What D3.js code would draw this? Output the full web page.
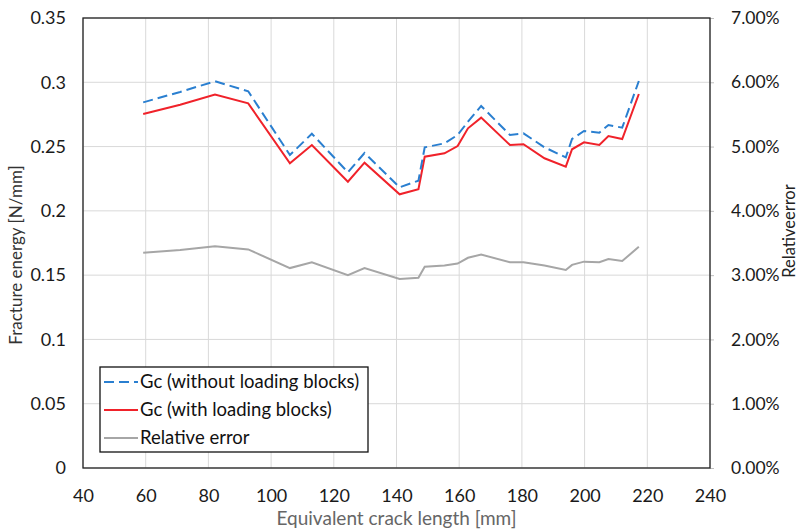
<!DOCTYPE html>
<html><head><meta charset="utf-8">
<script src="https://cdn.jsdelivr.net/npm/d3@7"></script>
<style>body{margin:0;background:#fff}svg{display:block}text{font-family:Lato,"Open Sans",sans-serif}</style>
</head><body><svg id="c" width="802" height="532"></svg>
<script>
const crackLength = [59.2, 71, 82.1, 92.7, 106, 113, 124.5, 129.8, 141, 147, 149, 155.3, 159.5, 162.8, 167, 176.2, 180.5, 187.2, 194, 196, 199.8, 204.7, 207.6, 212, 217.3];
const gcWithout = [0.2844, 0.2925, 0.3008, 0.2930, 0.2434, 0.2600, 0.2300, 0.2450, 0.2183, 0.2235, 0.2494, 0.2525, 0.2590, 0.2694, 0.2816, 0.2590, 0.2603, 0.2494, 0.2416, 0.2559, 0.2621, 0.2608, 0.2668, 0.2647, 0.3010];
const gcWith = [0.2753, 0.2825, 0.2905, 0.2836, 0.2370, 0.2512, 0.2227, 0.2375, 0.2129, 0.2168, 0.2421, 0.2448, 0.2504, 0.2642, 0.2725, 0.2512, 0.2518, 0.2409, 0.2344, 0.2479, 0.2533, 0.2512, 0.2582, 0.2559, 0.2909];
const relError = [0.0335, 0.0339, 0.0345, 0.0340, 0.0311, 0.0320, 0.0300, 0.0311, 0.0294, 0.0296, 0.0313, 0.0315, 0.0318, 0.0327, 0.0332, 0.0320, 0.0320, 0.0315, 0.0308, 0.0316, 0.0321, 0.0320, 0.0325, 0.0322, 0.0344];
const xTicks = [40, 60, 80, 100, 120, 140, 160, 180, 200, 220, 240];
const yTicks = [0, 0.05, 0.1, 0.15, 0.2, 0.25, 0.3, 0.35];
const y2Ticks = [0, 0.01, 0.02, 0.03, 0.04, 0.05, 0.06, 0.07];
const seriesNames = ["Gc (without loading blocks)", "Gc (with loading blocks)", "Relative error"];
const xTitle = "Equivalent crack length [mm]";
const yTitle = "Fracture energy [N/mm]";
const y2Title = "Relativeerror";

const W = 802, H = 532, m = {l: 83, r: 92, t: 18, b: 64};
const svg = d3.select("#c");
const x = d3.scaleLinear().domain([40, 240]).range([m.l, W - m.r]);
const y = d3.scaleLinear().domain([0, 0.35]).range([H - m.b, m.t]);
const y2 = d3.scaleLinear().domain([0, 0.07]).range([H - m.b, m.t]);

// gridlines
const g = svg.append("g");
g.selectAll(".hg").data(yTicks).join("line")
  .attr("x1", m.l).attr("x2", W - m.r).attr("y1", d => y(d)).attr("y2", d => y(d))
  .attr("stroke", "#d9d9d9").attr("stroke-width", 1);
g.selectAll(".vg").data(xTicks).join("line")
  .attr("y1", m.t).attr("y2", H - m.b).attr("x1", d => x(d)).attr("x2", d => x(d))
  .attr("stroke", "#d9d9d9").attr("stroke-width", 1);

// axes (labels)
const xAxis = svg.append("g").attr("transform", `translate(0,${H - m.b})`)
  .call(d3.axisBottom(x).tickValues(xTicks).tickSize(0).tickPadding(21).tickFormat(d3.format("d")));
const yAxis = svg.append("g").attr("transform", `translate(${m.l},0)`)
  .call(d3.axisLeft(y).tickValues(yTicks).tickSize(0).tickPadding(17).tickFormat(d => d === 0 ? "0" : String(+d.toFixed(2))));
const y2Axis = svg.append("g").attr("transform", `translate(${W - m.r},0)`)
  .call(d3.axisRight(y2).tickValues(y2Ticks).tickSize(4).tickPadding(17).tickFormat(d => (d * 100).toFixed(2) + "%"));
[xAxis, yAxis, y2Axis].forEach(a => {
  a.select(".domain").remove();
  a.selectAll("text").attr("font-size", 18).attr("fill", "#1a1a1a").attr("font-family", "Lato");
});
y2Axis.selectAll("text").attr("font-size", 17.5);
y2Axis.selectAll("line").attr("stroke", "#bfbfbf");

// frame
svg.append("rect").attr("x", m.l).attr("y", m.t).attr("width", W - m.l - m.r).attr("height", H - m.t - m.b)
  .attr("fill", "none").attr("stroke", "#222").attr("stroke-width", 1.3);

// lines
const idx = d3.range(crackLength.length);
const lineY = arr => d3.line().x(i => x(crackLength[i])).y(i => y(arr[i]));
const lineY2 = arr => d3.line().x(i => x(crackLength[i])).y(i => y2(arr[i]));
svg.append("path").datum(idx).attr("d", lineY2(relError)).attr("fill", "none")
  .attr("stroke", "#a6a6a6").attr("stroke-width", 2);
svg.append("path").datum(idx).attr("d", lineY(gcWith)).attr("fill", "none")
  .attr("stroke", "#f0222a").attr("stroke-width", 2);
svg.append("path").datum(idx).attr("d", lineY(gcWithout)).attr("fill", "none")
  .attr("stroke", "#2a7fd0").attr("stroke-width", 2).attr("stroke-dasharray", "10,5");

// titles
svg.append("text").attr("x", x(140)).attr("y", 525).attr("text-anchor", "middle")
  .attr("font-size", 19).attr("fill", "#666").text(xTitle);
svg.append("text").attr("transform", `translate(22,${(m.t + H - m.b) / 2 + 12}) rotate(-90)`).attr("text-anchor", "middle")
  .attr("font-size", 17).attr("fill", "#333").text(yTitle);
svg.append("text").attr("transform", `translate(795,${(m.t + H - m.b) / 2 - 12}) rotate(-90)`).attr("text-anchor", "middle")
  .attr("font-size", 16.5).attr("fill", "#222").text(y2Title);

// legend
const lg = svg.append("g");
lg.append("rect").attr("x", 100).attr("y", 367).attr("width", 268).attr("height", 85)
  .attr("fill", "#fff").attr("stroke", "#111").attr("stroke-width", 1.3);
const styles = [
  {c: "#2a7fd0", dash: "10,5"},
  {c: "#f0222a", dash: null},
  {c: "#a6a6a6", dash: null}
];
seriesNames.forEach((s, i) => {
  const yy = 382 + i * 28;
  lg.append("line").attr("x1", 104).attr("x2", 138).attr("y1", yy).attr("y2", yy)
    .attr("stroke", styles[i].c).attr("stroke-width", 2).attr("stroke-dasharray", styles[i].dash);
  lg.append("text").attr("x", 140).attr("y", yy).attr("dy", "0.35em")
    .attr("font-size", 18.5).attr("fill", "#111").text(s);
});
</script></body></html>
